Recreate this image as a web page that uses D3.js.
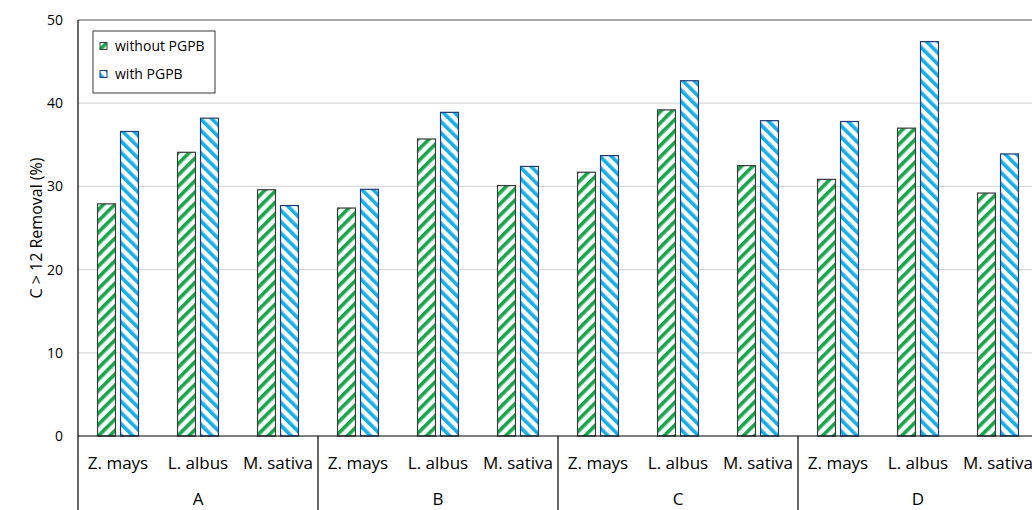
<!DOCTYPE html>
<html><head><meta charset="utf-8">
<script src="https://cdn.jsdelivr.net/npm/d3@7/dist/d3.min.js"></script>
<style>
html,body{margin:0;padding:0;background:#fff;overflow:hidden}
svg{display:block;font-family:"Open Sans",Lato,sans-serif}
</style></head>
<body>
<svg id="chart" width="1032" height="510"></svg>
<script>
const groups = ["A","B","C","D"];
const species = ["Z. mays","L. albus","M. sativa"];
const seriesNames = ["without PGPB","with PGPB"];
// values per group, per species order
const withoutPGPB = [27.9,34.1,29.6, 27.4,35.7,30.1, 31.7,39.2,32.5, 30.85,37.0,29.2];
const withPGPB    = [36.6,38.2,27.7, 29.65,38.9,32.4, 33.7,42.7,37.9, 37.8,47.4,33.9];
const yTicks = [0,10,20,30,40,50];
const yTitle = "C > 12 Removal (%)";

const svg = d3.select("#chart");
const defs = svg.append("defs");
function stripes(id, color, angle){
  const p = defs.append("pattern").attr("id",id).attr("patternUnits","userSpaceOnUse")
    .attr("width",8).attr("height",8).attr("patternTransform",`rotate(${angle})`);
  p.append("rect").attr("width",8).attr("height",8).attr("fill","#fff");
  p.append("rect").attr("x",0).attr("y",0).attr("width",3.6).attr("height",8).attr("fill",color);
}
stripes("pGreen","#12a84a",45);
stripes("pBlue","#14aeea",-45);

const x0 = 78, x1 = 1038, yTop = 20, yBot = 436;
const y = d3.scaleLinear().domain([0,50]).range([yBot,yTop]);
const gx = d3.scaleBand().domain(groups).range([x0,x1]);
const cx = d3.scaleBand().domain(species).range([0,gx.bandwidth()]);
const sx = d3.scaleBand().domain(seriesNames).range([0,cx.bandwidth()]).paddingInner(0.22).paddingOuter(0.85);

// gridlines
svg.append("g").selectAll("line").data(yTicks.filter(t=>t>0 && t<50)).join("line")
  .attr("x1",x0).attr("x2",x1).attr("y1",d=>y(d)).attr("y2",d=>y(d))
  .attr("stroke","#d9d9d9").attr("stroke-width",1.2);
svg.append("line").attr("x1",x0).attr("x2",x1).attr("y1",y(50)).attr("y2",y(50))
  .attr("stroke","#8c8c8c").attr("stroke-width",1.5);

// data rows
const rows = [];
groups.forEach((g,gi)=>species.forEach((s,si)=>{
  rows.push({g,s,series:seriesNames[0],v:withoutPGPB[gi*3+si]});
  rows.push({g,s,series:seriesNames[1],v:withPGPB[gi*3+si]});
}));
svg.append("g").selectAll("rect").data(rows).join("rect")
  .attr("x",d=>gx(d.g)+cx(d.s)+sx(d.series))
  .attr("width",sx.bandwidth())
  .attr("y",d=>y(d.v)).attr("height",d=>y(0)-y(d.v))
  .attr("fill",d=>d.series===seriesNames[0]?"url(#pGreen)":"url(#pBlue)")
  .attr("stroke",d=>d.series===seriesNames[0]?"#3a3a3a":"#1f3a78")
  .attr("stroke-width",1.2);

// y axis
const yAxis = d3.axisLeft(y).tickValues(yTicks).tickSize(0).tickPadding(15);
const ya = svg.append("g").attr("transform",`translate(${x0},0)`).call(yAxis);
ya.select(".domain").remove();
ya.selectAll("text").attr("font-size",14).attr("fill","#000").attr("font-family","Open Sans");
svg.append("line").attr("x1",x0).attr("x2",x0).attr("y1",yTop).attr("y2",510).attr("stroke","#000").attr("stroke-width",1.2);
svg.append("line").attr("x1",x0).attr("x2",x1).attr("y1",yBot).attr("y2",yBot).attr("stroke","#000").attr("stroke-width",1.2);

// group separators
svg.append("g").selectAll("line").data(groups.slice(1)).join("line")
  .attr("x1",d=>gx(d)).attr("x2",d=>gx(d)).attr("y1",yBot).attr("y2",510)
  .attr("stroke","#000").attr("stroke-width",1.2);

// category labels
const catLabels = [];
groups.forEach(g=>species.forEach(s=>catLabels.push({g,s})));
svg.append("g").selectAll("text").data(catLabels).join("text")
  .attr("x",d=>gx(d.g)+cx(d.s)+cx.bandwidth()/2).attr("y",469)
  .attr("text-anchor","middle").attr("font-size",17).attr("fill","#000").text(d=>d.s);
svg.append("g").selectAll("text").data(groups).join("text")
  .attr("x",d=>gx(d)+gx.bandwidth()/2).attr("y",505)
  .attr("text-anchor","middle").attr("font-size",17).attr("fill","#000").text(d=>d);

// y title
svg.append("text").attr("transform",`translate(42,${(yTop+yBot)/2}) rotate(-90)`)
  .attr("text-anchor","middle").attr("font-size",16).attr("fill","#000").text(yTitle);

// legend
const lg = svg.append("g");
lg.append("rect").attr("x",93).attr("y",31).attr("width",122).attr("height",62)
  .attr("fill","#fff").attr("stroke","#595959").attr("stroke-width",1.2);
seriesNames.forEach((n,i)=>{
  const yy = 46 + i*28;
  lg.append("rect").attr("x",100).attr("y",yy-3.5).attr("width",7).attr("height",7)
    .attr("fill",i===0?"url(#pGreen)":"url(#pBlue)")
    .attr("stroke",i===0?"#3a3a3a":"#1f3a78").attr("stroke-width",1);
  lg.append("text").attr("x",115).attr("y",yy+5).attr("font-size",14).attr("fill","#000").text(n);
});
</script>
</body></html>
